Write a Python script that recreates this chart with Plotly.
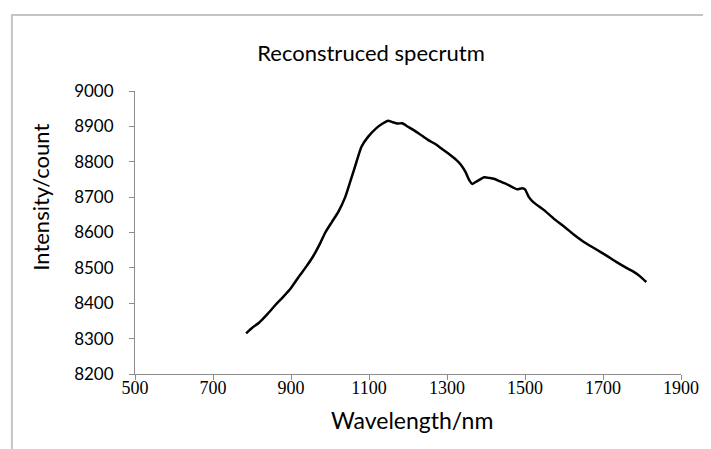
import plotly.graph_objects as go

wavelength = [785, 800, 818, 840, 860, 880, 900, 920, 940, 958, 975, 988, 1005, 1022, 1039,
              1056, 1068, 1081, 1098, 1119, 1135, 1149, 1160, 1174, 1185, 1200, 1225, 1251,
              1270, 1285, 1300, 1314, 1323, 1336, 1348, 1357, 1365, 1372, 1382, 1395, 1410,
              1420, 1435, 1454, 1470, 1480, 1493, 1500, 1510, 1522, 1548, 1573, 1600, 1624,
              1650, 1683, 1710, 1734, 1760, 1777, 1795, 1811]
intensity = [8315, 8330, 8345, 8370, 8395, 8418, 8443, 8475, 8505, 8535, 8570, 8600, 8630,
             8660, 8700, 8758, 8800, 8843, 8871, 8895, 8908, 8916, 8912, 8908, 8909, 8899,
             8882, 8862, 8850, 8838, 8826, 8814, 8806, 8791, 8770, 8748, 8737, 8742, 8748,
             8756, 8754, 8752, 8745, 8736, 8727, 8722, 8725, 8722, 8700, 8685, 8664, 8640,
             8617, 8595, 8574, 8552, 8534, 8517, 8500, 8490, 8476, 8460]
x_ticks = [500, 700, 900, 1100, 1300, 1500, 1700, 1900]
y_ticks = [8200, 8300, 8400, 8500, 8600, 8700, 8800, 8900, 9000]

fig = go.Figure()
fig.add_trace(go.Scatter(x=wavelength, y=intensity, mode="lines", line_shape="spline",
                         line=dict(color="black", width=2.5, smoothing=0.6), showlegend=False))

# page body has an 8px margin; work in window pixels and convert
OFF = 8
W, H = 711 - OFF, 449 - OFF
L, T = 135 - OFF, 91 - OFF
R = W - (685 - OFF)
B = H - (374 - OFF)
pw, ph = W - L - R, H - T - B

def px_x(px):
    return (px - OFF - L) / pw

def px_y(py):
    return (H - B - (py - OFF)) / ph

fig.update_layout(
    width=W, height=H,
    margin=dict(l=L, r=R, t=T, b=B),
    paper_bgcolor="white", plot_bgcolor="white",
    title=dict(text="Reconstruced specrutm", x=(371 - OFF) / W, xref="container", xanchor="center",
               y=1 - (53 - OFF) / H, yref="container", yanchor="middle",
               font=dict(family="Lato", size=22, color="black")),
    xaxis=dict(range=[500, 1900], tickvals=x_ticks, ticktext=[str(v) for v in x_ticks],
               showgrid=False, zeroline=False, showline=True, linecolor="#8c8c8c", linewidth=1,
               ticks="outside", ticklen=5, tickcolor="#8c8c8c", ticklabelstandoff=-8,
               tickfont=dict(family="Liberation Serif", size=18, color="black")),
    yaxis=dict(range=[8200, 9000], tickvals=y_ticks, ticktext=[str(v) for v in y_ticks],
               showgrid=False, zeroline=False, showline=True, linecolor="#8c8c8c", linewidth=1,
               ticks="outside", ticklen=5, tickcolor="#8c8c8c", ticklabelstandoff=12,
               tickfont=dict(family="Lato", size=17, color="black")),
    shapes=[dict(type="rect", xref="paper", yref="paper",
                 x0=px_x(11), x1=px_x(760), y0=px_y(500), y1=px_y(15),
                 line=dict(color="#c4c4c4", width=2), fillcolor="rgba(0,0,0,0)", layer="below")],
    annotations=[
        dict(text="Wavelength/nm", xref="paper", yref="paper", x=px_x(414), y=px_y(420),
             xanchor="center", yanchor="middle", showarrow=False,
             font=dict(family="Lato", size=23, color="black")),
        dict(text="Intensity/count", xref="paper", yref="paper", x=px_x(39), y=px_y(197),
             xanchor="center", yanchor="middle", showarrow=False, textangle=-90,
             font=dict(family="Lato", size=22, color="black")),
    ],
)

fig.write_html("out.html")
